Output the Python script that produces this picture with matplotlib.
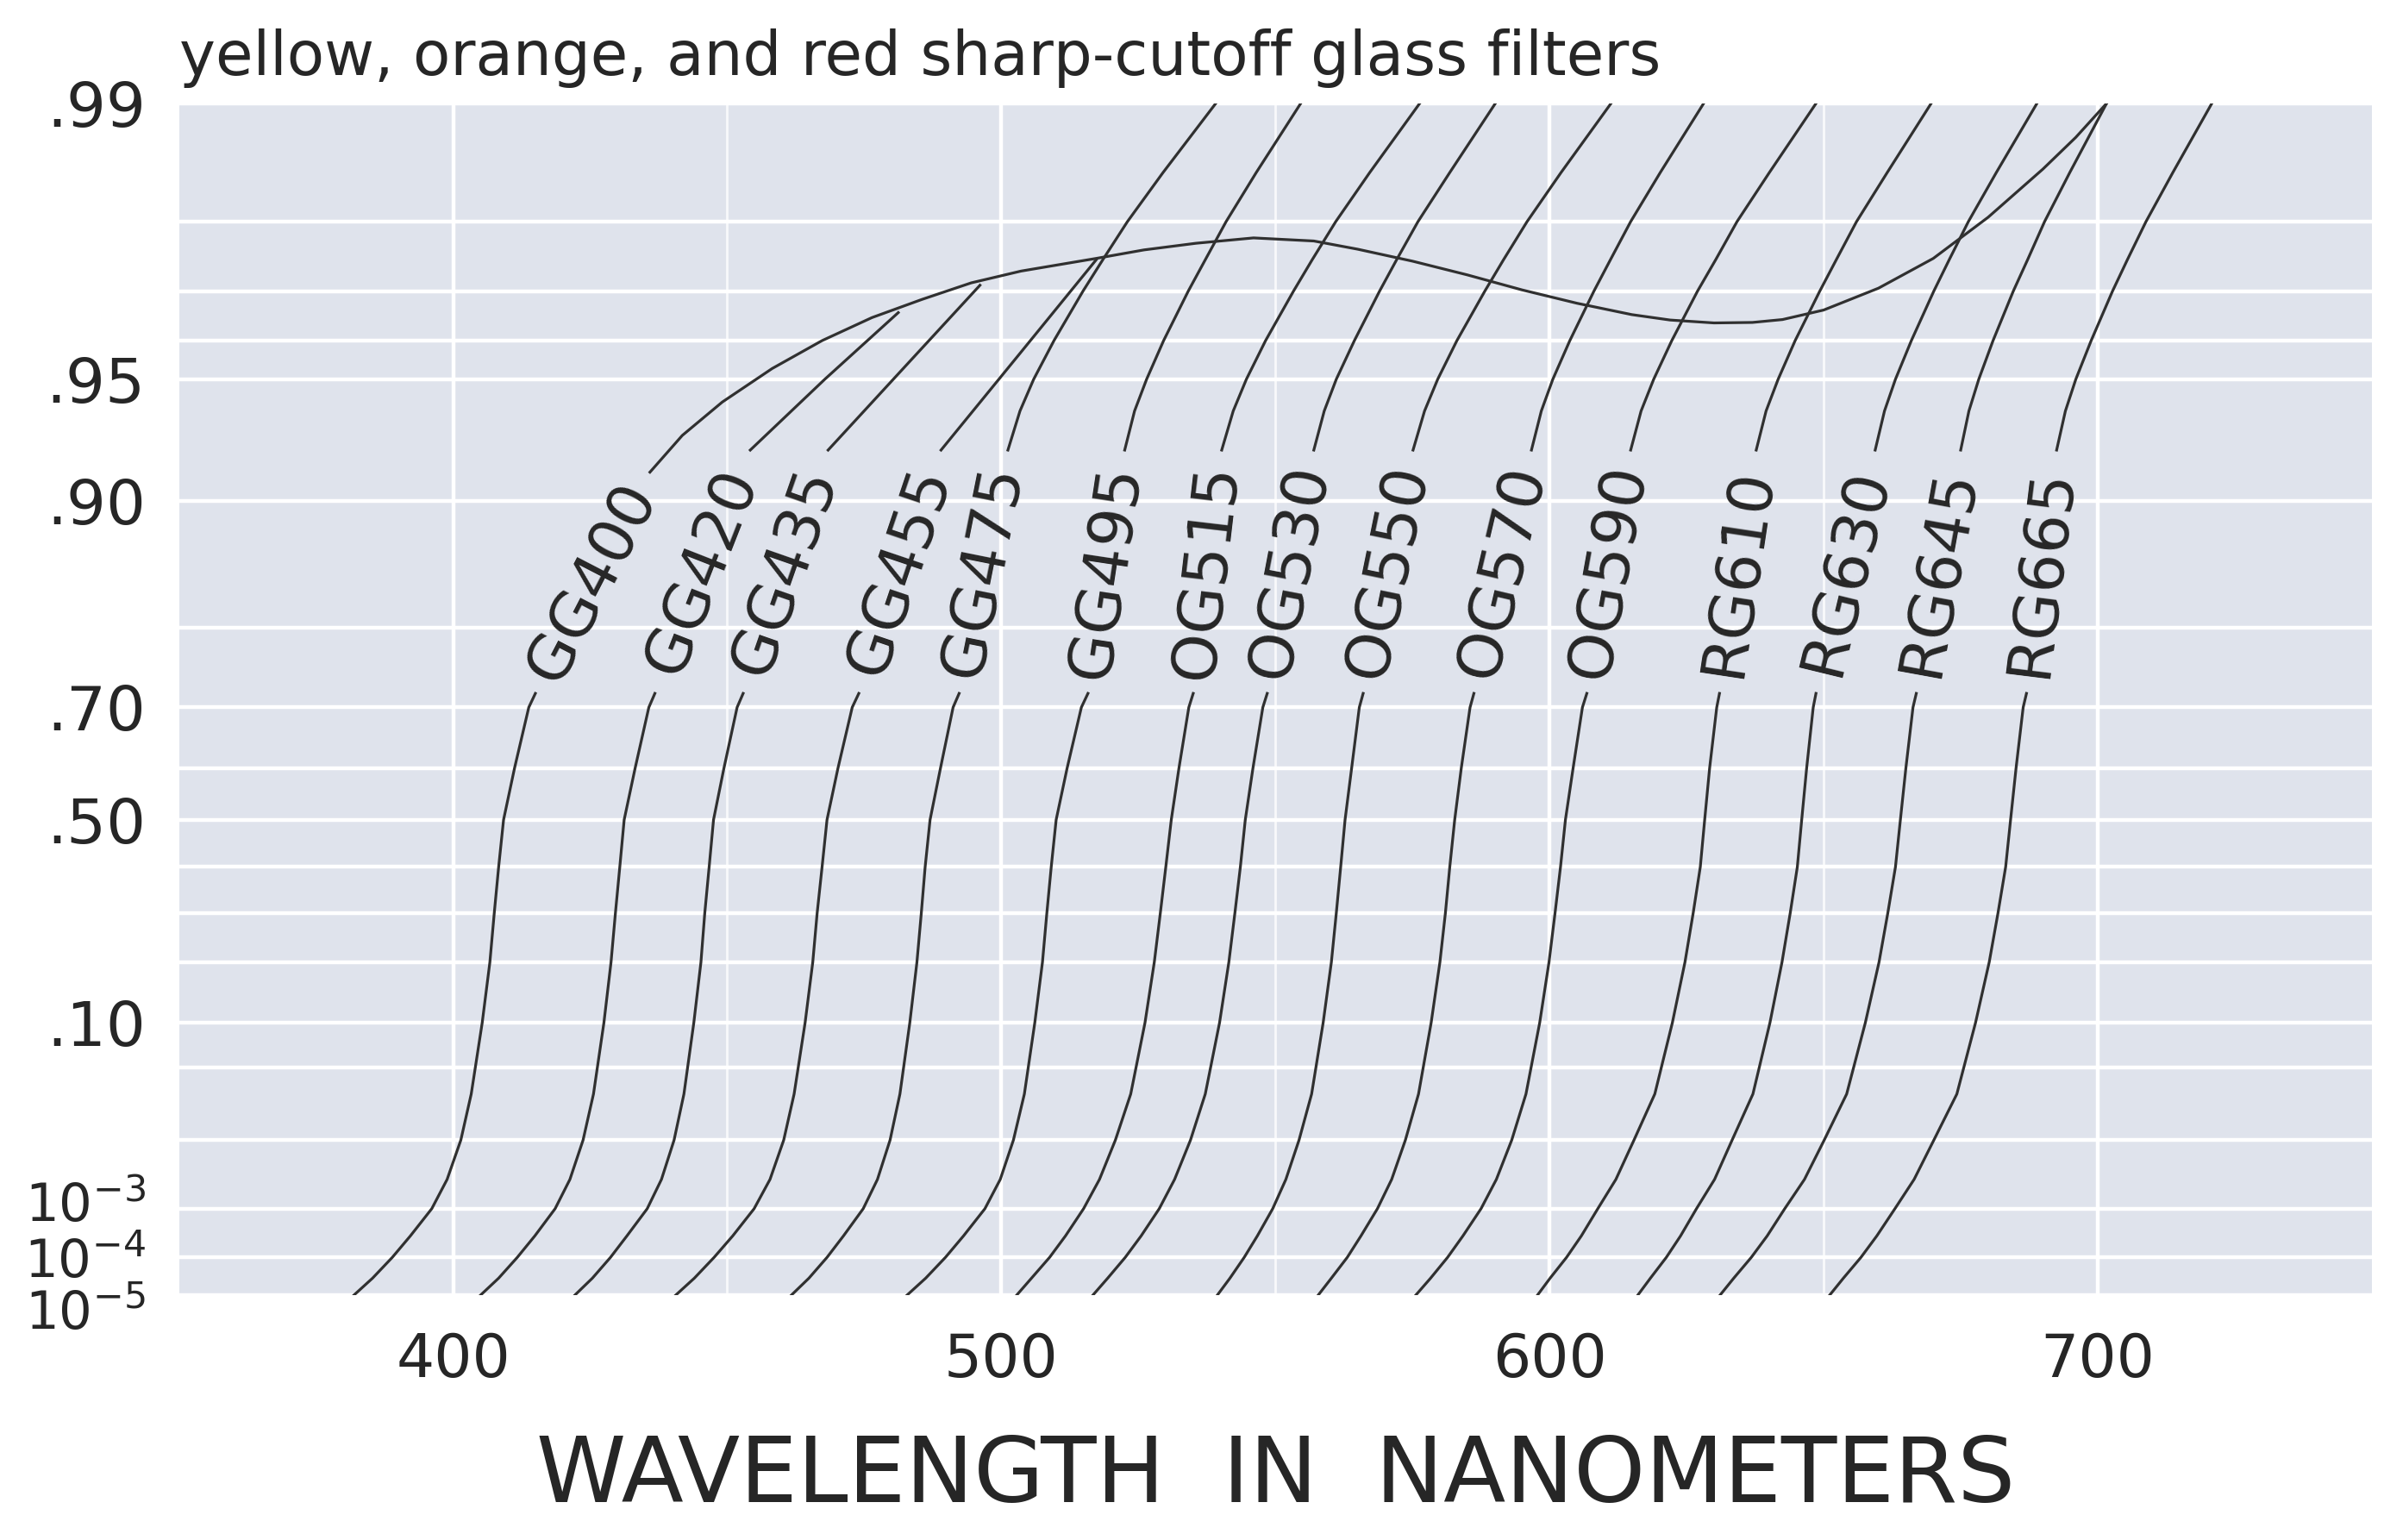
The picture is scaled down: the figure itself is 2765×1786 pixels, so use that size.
import numpy as np
import matplotlib
matplotlib.use("Agg")
import matplotlib.pyplot as plt
from matplotlib.ticker import NullFormatter
from matplotlib.transforms import ScaledTranslation


TITLE = "yellow, orange, and red sharp-cutoff glass filters"
XLABEL = "WAVELENGTH  IN  NANOMETERS"

# transmission levels shared by the lower (blocking) branch of every filter
T_LOW = [1e-5, 3e-5, 1e-4, 3e-4, 1e-3, 3e-3, 1e-2, 3e-2,
         0.10, 0.20, 0.30, 0.40, 0.50, 0.60, 0.70, 0.72]
# transmission levels for the upper branch of the later filters
T_UP = [0.925, 0.94, 0.95, 0.96, 0.97, 0.975, 0.98, 0.985, 0.99]

# wavelengths (nm) of the lower branch, one per T_LOW level
gg400_low = [381.9, 385.3, 388.9, 392.2, 396.1, 398.9, 401.4, 403.3,
             405.3, 406.7, 407.5, 408.3, 409.2, 411.2, 413.8, 415.0]
gg420_low = [405.0, 408.3, 411.7, 414.9, 418.6, 421.3, 423.7, 425.6,
             427.5, 428.8, 429.6, 430.4, 431.2, 433.2, 435.7, 436.8]
gg435_low = [422.2, 425.4, 428.7, 431.7, 435.4, 438.0, 440.3, 442.1,
             443.9, 445.2, 445.9, 446.7, 447.5, 449.4, 451.8, 452.9]
gg455_low = [440.6, 444.0, 447.6, 451.0, 454.9, 457.8, 460.3, 462.2,
             464.2, 465.6, 466.4, 467.3, 468.2, 470.2, 472.8, 474.0]
gg475_low = [461.7, 464.9, 468.2, 471.2, 474.8, 477.4, 479.7, 481.5,
             483.3, 484.6, 485.4, 486.1, 487.0, 488.9, 491.2, 492.3]
gg495_low = [482.8, 486.2, 489.8, 493.1, 497.0, 499.8, 502.2, 504.2,
             506.1, 507.5, 508.3, 509.1, 510.0, 512.0, 514.6, 515.8]
og515_low = [502.8, 505.5, 508.8, 511.7, 515.0, 517.9, 520.8, 523.6,
             526.2, 527.9, 529.0, 530.0, 531.0, 532.4, 534.2, 535.0]
og530_low = [516.7, 519.4, 522.6, 525.5, 528.8, 531.6, 534.5, 537.2,
             539.8, 541.5, 542.6, 543.6, 544.5, 545.9, 547.7, 548.5]
og550_low = [539.4, 541.7, 544.3, 546.7, 549.5, 551.9, 554.3, 556.6,
             558.7, 560.2, 561.1, 561.9, 562.7, 563.9, 565.3, 566.0]
og570_low = [557.8, 560.2, 563.1, 565.6, 568.6, 571.2, 573.7, 576.1,
             578.4, 580.0, 581.0, 581.8, 582.7, 583.9, 585.5, 586.2]
og590_low = [575.6, 578.3, 581.4, 584.2, 587.5, 590.3, 593.1, 595.7,
             598.2, 599.9, 601.0, 602.0, 602.9, 604.3, 606.0, 606.8]
rg610_low = [597.8, 600.1, 603.1, 605.8, 608.8, 612.1, 615.4, 619.2,
             622.4, 624.7, 626.2, 627.5, 628.3, 629.2, 630.5, 631.0]
rg630_low = [616.1, 618.4, 621.3, 623.9, 626.8, 630.1, 633.3, 637.1,
             640.2, 642.4, 643.9, 645.2, 646.0, 646.9, 648.1, 648.6]
rg645_low = [631.1, 633.6, 636.8, 639.7, 642.9, 646.5, 650.1, 654.2,
             657.6, 660.1, 661.7, 663.1, 664.0, 665.0, 666.3, 666.9]
rg665_low = [651.1, 653.6, 656.8, 659.7, 663.0, 666.5, 670.1, 674.3,
             677.7, 680.2, 681.8, 683.2, 684.1, 685.1, 686.4, 687.0]

# GG400 upper branch is the base-glass transmission curve
gg400_up = [435.9, 441.8, 449.1, 458.2, 467.3, 476.4, 485.5, 494.5, 503.6, 517.3,
            526.0, 535.5, 546.0, 557.0, 565.0, 575.0, 585.0, 595.0, 605.0, 615.0,
            622.0, 630.0, 637.0, 642.5, 650.0, 660.0, 670.0, 680.0, 690.0, 696.0,
            701.6]
gg400_up_t = [0.915, 0.931, 0.943, 0.953, 0.960, 0.965, 0.9685, 0.9714, 0.9733, 0.9752,
              0.9764, 0.9773, 0.978, 0.9776, 0.9765, 0.9748, 0.9727, 0.9702, 0.9678, 0.9656,
              0.9645, 0.9639, 0.9640, 0.9646, 0.9665, 0.9705, 0.9752, 0.9805, 0.9853, 0.9878,
              0.99]

# GG420 .. GG455 run into the base-glass curve
gg420_up = [454.2, 467.8, 481.2]
gg420_up_t = [0.925, 0.950, 0.966]
gg435_up = [468.4, 482.1, 496.1]
gg435_up_t = [0.925, 0.953, 0.971]
gg455_up = [489.0, 503.2, 517.3]
gg455_up_t = [0.925, 0.9566, 0.975]

# the rest climb to the top of the chart (values at T_UP)
gg475_up = [501.2, 503.4, 505.9, 509.6, 514.9, 518.5, 523.0, 529.5, 539.1]
gg495_up = [522.5, 524.3, 526.5, 529.6, 534.1, 537.2, 541.0, 546.5, 554.6]
og515_up = [540.2, 542.3, 544.7, 548.2, 553.3, 556.7, 561.0, 567.2, 576.3]
og530_up = [557.0, 558.9, 561.1, 564.4, 569.0, 572.1, 576.0, 581.8, 590.1]
og550_up = [575.1, 577.2, 579.6, 583.1, 588.2, 591.6, 595.9, 602.1, 611.2]
og570_up = [596.7, 598.5, 600.6, 603.7, 608.1, 611.1, 614.8, 620.2, 628.1]
og590_up = [614.8, 616.7, 619.0, 622.3, 627.0, 630.3, 634.2, 640.1, 648.6]
rg610_up = [637.7, 639.5, 641.7, 644.8, 649.3, 652.3, 656.0, 661.6, 669.6]
rg630_up = [659.4, 661.1, 663.1, 666.0, 670.1, 672.9, 676.4, 681.5, 688.9]
rg645_up = [675.0, 676.5, 678.3, 680.9, 684.6, 687.2, 690.3, 694.9, 701.6]
rg665_up = [692.5, 694.1, 696.0, 698.8, 702.7, 705.4, 708.8, 713.7, 720.8]

Y_TICKS = [1e-5, 1e-4, 1e-3, 0.10, 0.50, 0.70, 0.90, 0.95, 0.99]
Y_LABELS = [r"$10^{-5}$", r"$10^{-4}$", r"$10^{-3}$", ".10", ".50", ".70", ".90", ".95", ".99"]
Y_MINOR = [0.01, 0.05, 0.20, 0.30, 0.40, 0.60, 0.80, 0.96, 0.97, 0.98]
X_TICKS = [400, 500, 600, 700]
X_MINOR = [450, 550, 650]

curves = [
    ("GG400", gg400_low, gg400_up, gg400_up_t),
    ("GG420", gg420_low, gg420_up, gg420_up_t),
    ("GG435", gg435_low, gg435_up, gg435_up_t),
    ("GG455", gg455_low, gg455_up, gg455_up_t),
    ("GG475", gg475_low, gg475_up, T_UP),
    ("GG495", gg495_low, gg495_up, T_UP),
    ("OG515", og515_low, og515_up, T_UP),
    ("OG530", og530_low, og530_up, T_UP),
    ("OG550", og550_low, og550_up, T_UP),
    ("OG570", og570_low, og570_up, T_UP),
    ("OG590", og590_low, og590_up, T_UP),
    ("RG610", rg610_low, rg610_up, T_UP),
    ("RG630", rg630_low, rg630_up, T_UP),
    ("RG645", rg645_low, rg645_up, T_UP),
    ("RG665", rg665_low, rg665_up, T_UP),
]


def dbl_log(t):
    """log of optical density, so both ends of the transmission range spread out"""
    t = np.clip(np.asarray(t, dtype=float), 1e-12, 1 - 1e-12)
    return -np.log10(-np.log10(t))


def dbl_log_inv(y):
    return 10 ** (-(10 ** (-np.asarray(y, dtype=float))))


plt.rcParams["mathtext.default"] = "regular"
LINE = "#303030"
TEXT = "#262626"

fig = plt.figure(figsize=(13.825, 8.93), dpi=200)
ax = fig.add_axes([0.0751, 0.159, 0.9198, 0.7738])
ax.set_facecolor("#dfe3ec")
ax.set_yscale("function", functions=(dbl_log, dbl_log_inv))
ax.set_xlim(350, 750)
ax.set_ylim(1e-5, 0.99)

ax.set_yticks(Y_TICKS)
ax.set_yticklabels(Y_LABELS)
ax.set_yticks(Y_MINOR, minor=True)
ax.yaxis.set_minor_formatter(NullFormatter())
ax.set_xticks(X_TICKS)
ax.set_xticks(X_MINOR, minor=True)
ax.xaxis.set_minor_formatter(NullFormatter())

ax.grid(True, which="both", axis="y", color="white", lw=1.6)
ax.grid(True, which="major", axis="x", color="white", lw=1.6)
ax.grid(True, which="minor", axis="x", color="white", lw=1.0, alpha=0.8)
ax.set_axisbelow(True)
ax.tick_params(which="both", length=0)
ax.tick_params(axis="x", pad=15, labelsize=25, labelcolor=TEXT)
ax.tick_params(axis="y", pad=14, labelsize=26, labelcolor=TEXT)
for s in ax.spines.values():
    s.set_visible(False)

# the three density labels sit close together; spread them a little
ylabels = ax.get_yticklabels()
for lab, dy in zip(ylabels[:3], (-6, 0, 3)):
    lab.set_fontsize(22)
    lab.set_transform(lab.get_transform() + ScaledTranslation(0, dy / 72, fig.dpi_scale_trans))

for name, lo_nm, up_nm, up_t in curves:
    ax.plot(lo_nm, T_LOW, color=LINE, lw=1.15)
    ax.plot(up_nm, up_t, color=LINE, lw=1.15)
    # label sits in the gap between the two branches, along the chord
    p0 = ax.transData.transform((lo_nm[-1], T_LOW[-1]))
    p1 = ax.transData.transform((up_nm[0], up_t[0]))
    ang = np.degrees(np.arctan2(p1[1] - p0[1], p1[0] - p0[0]))
    xm, ym = ax.transData.inverted().transform((p0 + p1) / 2)
    ax.text(xm, ym, name, rotation=ang, rotation_mode="anchor",
            ha="center", va="center", fontsize=26, color=TEXT)

ax.set_title(TITLE, loc="left", fontsize=25.5, pad=12, color=TEXT)
ax.text(0.5, -0.153, XLABEL, transform=ax.transAxes, ha="center", va="center",
        fontsize=38, color=TEXT)

fig.savefig("out.png", dpi=200)
